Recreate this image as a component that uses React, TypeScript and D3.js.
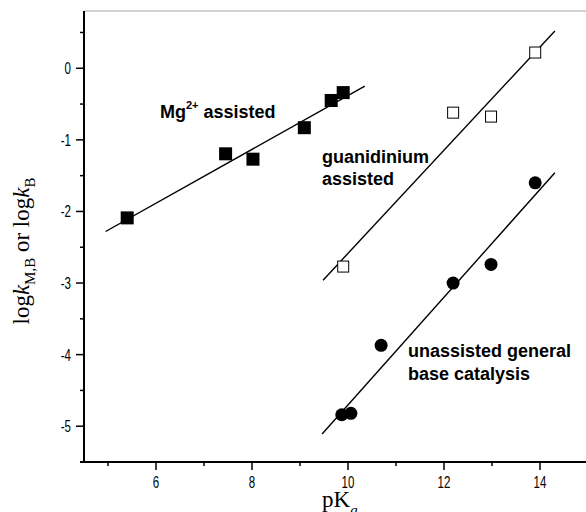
import React from "react";
import * as d3 from "d3";

// Data
const mgPKa = [5.4, 7.45, 8.02, 9.09, 9.65, 9.9];
const mgLogK = [-2.09, -1.195, -1.27, -0.83, -0.45, -0.34];
const mgFitX = [4.95, 10.35];
const mgFitY = [-2.28, -0.25];

const guPKa = [9.9, 12.19, 12.98, 13.9];
const guLogK = [-2.77, -0.62, -0.675, 0.22];
const guFitX = [9.48, 14.31];
const guFitY = [-2.96, 0.52];

const unPKa = [9.87, 10.06, 10.69, 12.19, 12.98, 13.9];
const unLogK = [-4.84, -4.82, -3.87, -3.0, -2.74, -1.6];
const unFitX = [9.46, 14.31];
const unFitY = [-5.11, -1.46];

const xMajorTicks = [6, 8, 10, 12, 14];
const xMinorTicks = [5, 7, 9, 11, 13, 15];
const yMajorTicks = [-5, -4, -3, -2, -1, 0];
const yMinorTicks = [-5.5, -4.5, -3.5, -2.5, -1.5, -0.5, 0.5];

const W = 586;
const H = 512;
const X0 = 84;
const X1 = 588;
const Y0 = 462;
const Y1 = 11;

export default function App() {
  const x = d3.scaleLinear().domain([4.5, 15]).range([X0, X1]);
  const y = d3.scaleLinear().domain([-5.5, 0.8]).range([Y0, Y1]);
  const line = d3
    .line<[number, number]>()
    .x((d) => x(d[0]))
    .y((d) => y(d[1]));
  const fit = (xs: number[], ys: number[]) =>
    line(xs.map((v, i) => [v, ys[i]] as [number, number])) || "";

  const tickFont = "Liberation Sans, Arial, sans-serif";
  const boldFont = "Liberation Sans, Arial, sans-serif";
  const serif = "Liberation Serif, Times New Roman, serif";

  return (
    <svg
      width={W}
      height={H}
      style={{ position: "absolute", left: 0, top: 0, background: "#fff" }}
    >
      <rect x={0} y={0} width={W} height={H} fill="#fff" />
      {/* top frame */}
      <line x1={X0} x2={W} y1={Y1} y2={Y1} stroke="#a8a8a8" strokeWidth={1} />

      {/* fits */}
      <path d={fit(mgFitX, mgFitY)} stroke="#000" strokeWidth={1.4} fill="none" />
      <path d={fit(guFitX, guFitY)} stroke="#000" strokeWidth={1.4} fill="none" />
      <path d={fit(unFitX, unFitY)} stroke="#000" strokeWidth={1.4} fill="none" />

      {/* markers */}
      {mgPKa.map((v, i) => (
        <rect
          key={"m" + i}
          x={x(v) - 6.5}
          y={y(mgLogK[i]) - 6.5}
          width={13}
          height={13}
          fill="#000"
        />
      ))}
      {guPKa.map((v, i) => (
        <rect
          key={"g" + i}
          x={x(v) - 5.5}
          y={y(guLogK[i]) - 5.5}
          width={11}
          height={11}
          fill="#fff"
          stroke="#000"
          strokeWidth={1}
        />
      ))}
      {unPKa.map((v, i) => (
        <circle key={"u" + i} cx={x(v)} cy={y(unLogK[i])} r={6.5} fill="#000" />
      ))}

      {/* axes */}
      <line x1={X0} x2={X0} y1={Y1} y2={Y0 + 1} stroke="#000" strokeWidth={2} />
      <line x1={80} x2={W} y1={Y0} y2={Y0} stroke="#000" strokeWidth={2} />

      {yMajorTicks.map((t) => (
        <g key={"ym" + t}>
          <line x1={76} x2={X0} y1={y(t)} y2={y(t)} stroke="#000" strokeWidth={1.5} />
          <text
            transform={`translate(71,${y(t) + 6}) scale(0.72,1)`}
            textAnchor="end"
            fontFamily={tickFont}
            fontSize={16}
            fill="#000"
          >
            {t}
          </text>
        </g>
      ))}
      {yMinorTicks.map((t) => (
        <line key={"yn" + t} x1={80} x2={X0} y1={y(t)} y2={y(t)} stroke="#000" strokeWidth={1.5} />
      ))}
      {xMajorTicks.map((t) => (
        <g key={"xm" + t}>
          <line x1={x(t)} x2={x(t)} y1={Y0} y2={Y0 + 8} stroke="#000" strokeWidth={1.5} />
          <text
            transform={`translate(${x(t)},${488}) scale(0.72,1)`}
            textAnchor="middle"
            fontFamily={tickFont}
            fontSize={16}
            fill="#000"
          >
            {t}
          </text>
        </g>
      ))}
      {xMinorTicks.map((t) => (
        <line key={"xn" + t} x1={x(t)} x2={x(t)} y1={Y0} y2={Y0 + 4} stroke="#000" strokeWidth={1.5} />
      ))}

      {/* annotations */}
      <text x={160} y={118} fontFamily={boldFont} fontWeight="bold" fontSize={18} fill="#000">
        Mg
        <tspan fontSize={11} dy={-9}>2+</tspan>
        <tspan dy={9}> assisted</tspan>
      </text>
      <text x={322} y={163} fontFamily={boldFont} fontWeight="bold" fontSize={18} fill="#000">
        guanidinium
      </text>
      <text x={322} y={185} fontFamily={boldFont} fontWeight="bold" fontSize={18} fill="#000">
        assisted
      </text>
      <text x={408} y={357} fontFamily={boldFont} fontWeight="bold" fontSize={18} fill="#000">
        unassisted general
      </text>
      <text x={408} y={380} fontFamily={boldFont} fontWeight="bold" fontSize={18} fill="#000">
        base catalysis
      </text>

      {/* axis titles */}
      <text x={322} y={507} fontFamily={serif} fontSize={23} fill="#000">
        pK
        <tspan fontSize={15} fontStyle="italic" dy={8}>a</tspan>
      </text>
      <text
        transform={`translate(29,251) rotate(-90)`}
        textAnchor="middle"
        fontFamily={serif}
        fontSize={23}
        fill="#000"
      >
        log
        <tspan fontStyle="italic">k</tspan>
        <tspan fontSize={15} dy={6}>M,B</tspan>
        <tspan dy={-6}> or log</tspan>
        <tspan fontStyle="italic">k</tspan>
        <tspan fontSize={15} dy={6}>B</tspan>
      </text>
    </svg>
  );
}
